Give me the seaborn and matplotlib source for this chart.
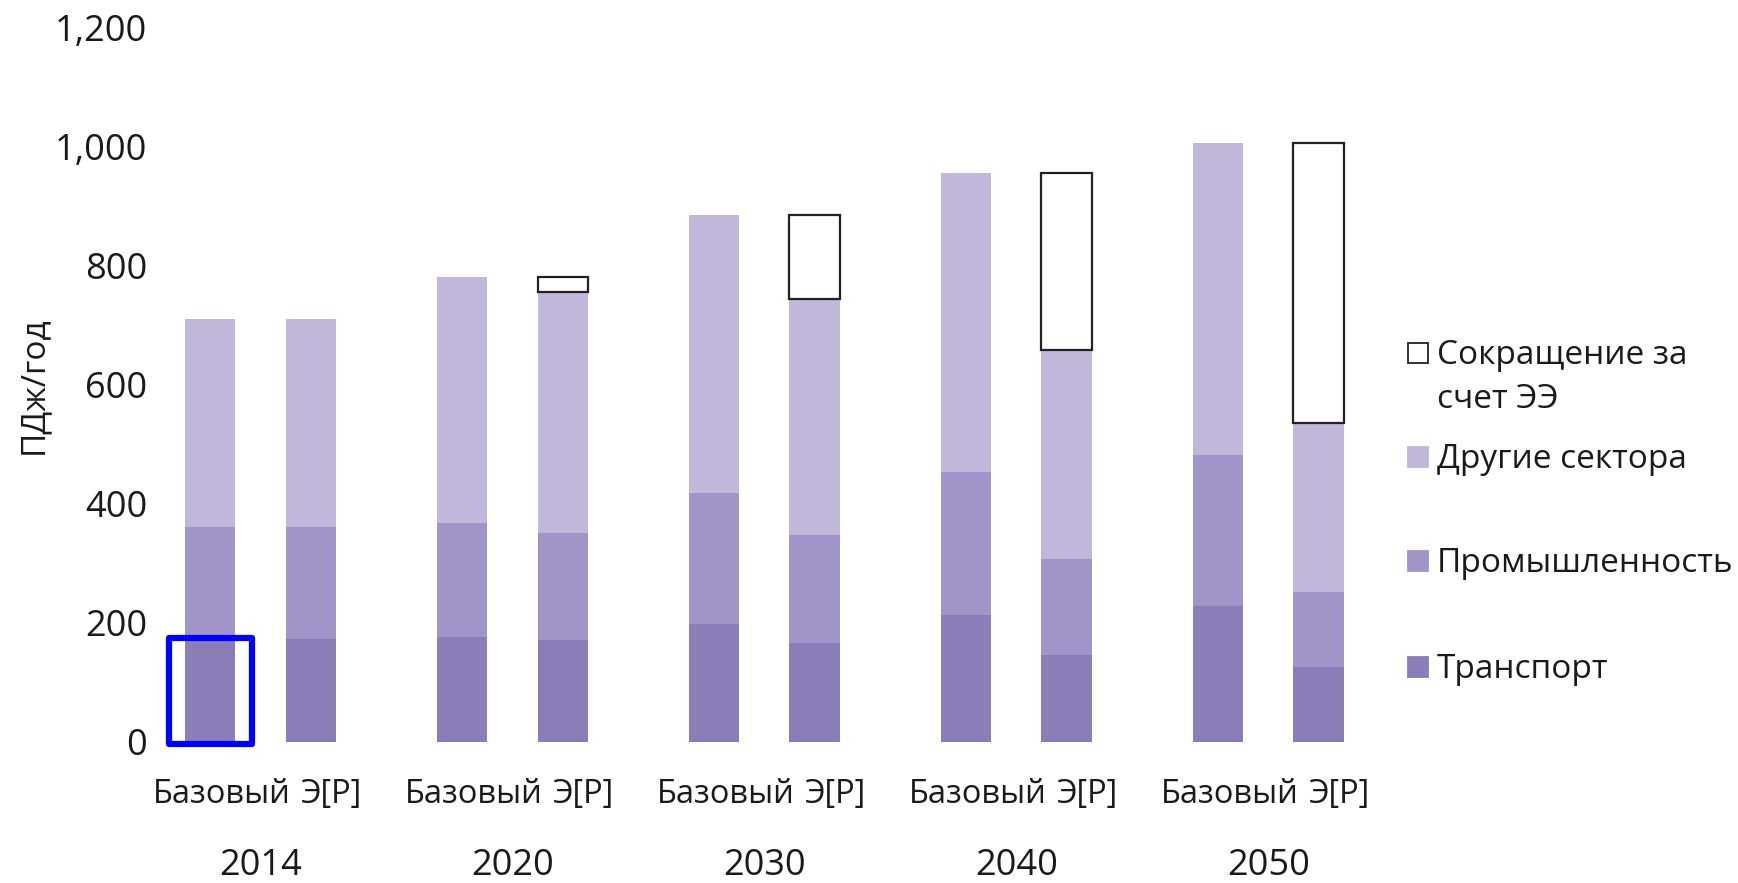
import numpy as np
import pandas as pd
import matplotlib
matplotlib.use("Agg")
import matplotlib.pyplot as plt
import matplotlib.transforms as mtransforms
from matplotlib.patches import Rectangle
from matplotlib.ticker import FuncFormatter
import seaborn as sns

# ---------------- data ----------------
years = ["2014", "2020", "2030", "2040", "2050"]
scenarios = ["Базовый", "Э[Р]"]
# one value per bar: (2014 Базовый, 2014 Э[Р], 2020 Базовый, 2020 Э[Р], ...)
transport = [171, 172, 175, 170, 198, 166, 213, 146, 228, 126]
industry = [189, 188, 192, 180, 220, 181, 240, 161, 254, 125]
other = [350, 350, 414, 405, 467, 397, 503, 351, 524, 284]
reduction = [0, 0, 0, 26, 0, 141, 0, 298, 0, 471]
series_names = ["Сокращение за\nсчет ЭЭ", "Другие сектора", "Промышленность", "Транспорт"]
yticks = [0, 200, 400, 600, 800, 1000, 1200]
y_label = "ПДж/год"

# ---------------- style ----------------
sns.set_theme(style="white")
plt.rcParams["font.family"] = ["Open Sans", "DejaVu Sans"]
TXT = "#1a1a1a"
C_TRANS = "#8a7db8"
C_IND = "#a094c8"
C_OTH = "#c0b7db"
FS = 24
FS_NUM = 26
FS_CAT = 23.5

W, H = 1738, 883
fig = plt.figure(figsize=(W / 100, H / 100), dpi=100)
ax_left, ax_right = 150, 1370
ax_top, ax_bot = 27.7, 741.5
ax = fig.add_axes([ax_left / W, 1 - ax_bot / H, (ax_right - ax_left) / W, (ax_bot - ax_top) / H])

# bar positions: two bars per year group
pos = np.array([g * 2.5 + k for g in range(len(years)) for k in range(len(scenarios))], dtype=float)
df = pd.DataFrame({"pos": pos, "t": transport, "i": industry, "o": other, "r": reduction}).astype(float)

common = dict(x="pos", native_scale=True, width=0.5, errorbar=None, saturation=1,
              linewidth=0, ax=ax)
sns.barplot(data=df, y="t", color=C_TRANS, **common)
sns.barplot(data=df, y="i", color=C_IND, bottom=df["t"].values, **common)
sns.barplot(data=df, y="o", color=C_OTH, bottom=(df["t"] + df["i"]).values, **common)

dr = df[df["r"] > 0].reset_index(drop=True)
min_step = np.diff(np.sort(dr["pos"].values)).min()
sns.barplot(data=dr, x="pos", y="r", native_scale=True, width=0.5 / min_step, errorbar=None,
            saturation=1, color="white", edgecolor="#222222", linewidth=1.6,
            bottom=(dr["t"] + dr["i"] + dr["o"]).values, ax=ax)

ax.set_xlim(-0.595, 11.51)
ax.set_ylim(0, 1200)
ax.set_yticks(yticks)
ax.yaxis.set_major_formatter(FuncFormatter(lambda v, p: f"{v:,.0f}"))
ax.set_xticks(pos)
ax.set_xticklabels([s for _ in years for s in scenarios])
ax.tick_params(axis="both", length=0, colors=TXT)
ax.tick_params(axis="x", pad=26.5, labelsize=FS_CAT)
ax.tick_params(axis="y", pad=2, labelsize=FS_NUM)
# category labels sit slightly to the right of their bars
for k, lab in enumerate(ax.get_xticklabels()):
    dx = 20 if k % 2 == 1 else 12
    lab.set_transform(lab.get_transform() +
                      mtransforms.ScaledTranslation(dx / 100, 0, fig.dpi_scale_trans))
ax.set_xlabel("")
ax.set_ylabel("")
for s in ax.spines.values():
    s.set_visible(False)
ax.grid(False)

# year labels under groups
trans = mtransforms.blended_transform_factory(ax.transData, ax.transAxes)
ax_h = ax_bot - ax_top
for g, yr in enumerate(years):
    ax.text(g * 2.5 + 0.5, -(866 - ax_bot) / ax_h, yr, transform=trans, ha="center",
            va="center", fontsize=FS_NUM, color=TXT)

# y label
fig.text(33 / W, 1 - 385 / H, y_label, rotation=90, ha="center", va="center",
         fontsize=FS, color=TXT)

# highlight box around 2014 Базовый transport bar
ax.add_patch(Rectangle((pos[0] - 0.41, -4), 0.83, 178, fill=False, edgecolor="#0000ff",
                       linewidth=4.5, joinstyle="round", clip_on=False, zorder=5))

# legend (manual)
def fx(px):
    return px / W

def fy(py):
    return 1 - py / H

leg_specs = [
    (series_names[0], "white", "#222222", 364),
    (series_names[1], C_OTH, C_OTH, 468),
    (series_names[2], C_IND, C_IND, 572),
    (series_names[3], C_TRANS, C_TRANS, 678),
]
sq = 20
line_gap = 44
for label, fc, ec, base in leg_specs:
    fig.add_artist(Rectangle((fx(1408), fy(base - 1)), sq / W, sq / H, transform=fig.transFigure,
                             facecolor=fc, edgecolor=ec, linewidth=1.3))
    for j, line in enumerate(label.split("\n")):
        fig.text(fx(1437), fy(base + j * line_gap), line, ha="left", va="baseline",
                 fontsize=FS, color=TXT)

fig.savefig("out.png", dpi=100)
